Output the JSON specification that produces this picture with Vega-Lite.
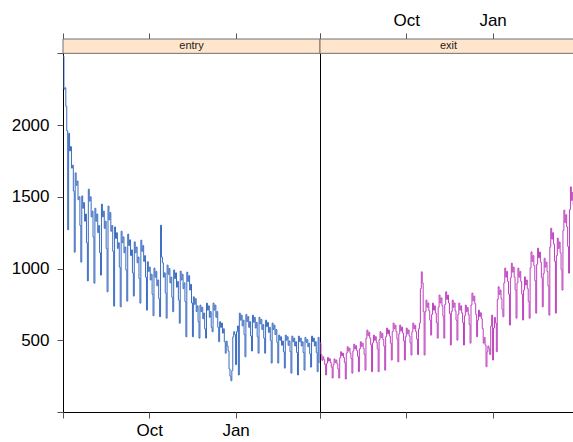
{
"$schema": "https://vega.github.io/schema/vega-lite/v6.json",
"padding": {"left": 10, "top": 10, "right": 0, "bottom": 0},
"spacing": 0,
"bounds": "flush",
"config": {
  "font": "Liberation Sans",
  "view": {"stroke": "#000000", "strokeWidth": 1},
  "axis": {"grid": false, "domain": false, "tickSize": 6, "tickColor": "#555555", "tickWidth": 1, "labelFontSize": 17, "labelColor": "#000000", "labelFont": "Liberation Sans"}
},
"datasets": {"tt": [
{"date":"2010-07-01","entry":2480,"exit":480},{"date":"2010-07-02","entry":2250,"exit":400},{"date":"2010-07-03","entry":2260,"exit":360},{"date":"2010-07-04","entry":2130,"exit":385},{"date":"2010-07-05","entry":1960,"exit":365},{"date":"2010-07-06","entry":1270,"exit":330},{"date":"2010-07-07","entry":1943,"exit":258},{"date":"2010-07-08","entry":1820,"exit":340},{"date":"2010-07-09","entry":1850,"exit":380},{"date":"2010-07-10","entry":1700,"exit":355},{"date":"2010-07-11","entry":1720,"exit":372},{"date":"2010-07-12","entry":1540,"exit":345},{"date":"2010-07-13","entry":1114,"exit":312},{"date":"2010-07-14","entry":1667,"exit":237},{"date":"2010-07-15","entry":1580,"exit":330},{"date":"2010-07-16","entry":1610,"exit":370},{"date":"2010-07-17","entry":1480,"exit":345},{"date":"2010-07-18","entry":1500,"exit":362},{"date":"2010-07-19","entry":1300,"exit":335},{"date":"2010-07-20","entry":1045,"exit":300},{"date":"2010-07-21","entry":1506,"exit":237},{"date":"2010-07-22","entry":1420,"exit":378},{"date":"2010-07-23","entry":1460,"exit":420},{"date":"2010-07-24","entry":1330,"exit":392},{"date":"2010-07-25","entry":1380,"exit":410},{"date":"2010-07-26","entry":1180,"exit":380},{"date":"2010-07-27","entry":914,"exit":344},{"date":"2010-07-28","entry":1553,"exit":230},{"date":"2010-07-29","entry":1470,"exit":410},{"date":"2010-07-30","entry":1500,"exit":455},{"date":"2010-07-31","entry":1360,"exit":425},
{"date":"2010-08-01","entry":1400,"exit":445},{"date":"2010-08-02","entry":1220,"exit":410},{"date":"2010-08-03","entry":898,"exit":373},{"date":"2010-08-04","entry":1420,"exit":271},{"date":"2010-08-05","entry":1330,"exit":425},{"date":"2010-08-06","entry":1380,"exit":473},{"date":"2010-08-07","entry":1250,"exit":440},{"date":"2010-08-08","entry":1300,"exit":462},{"date":"2010-08-09","entry":1110,"exit":428},{"date":"2010-08-10","entry":954,"exit":388},{"date":"2010-08-11","entry":1449,"exit":281},{"date":"2010-08-12","entry":1360,"exit":440},{"date":"2010-08-13","entry":1400,"exit":490},{"date":"2010-08-14","entry":1280,"exit":458},{"date":"2010-08-15","entry":1330,"exit":480},{"date":"2010-08-16","entry":1140,"exit":445},{"date":"2010-08-17","entry":838,"exit":402},{"date":"2010-08-18","entry":1435,"exit":292},{"date":"2010-08-19","entry":1340,"exit":515},{"date":"2010-08-20","entry":1390,"exit":571},{"date":"2010-08-21","entry":1260,"exit":532},{"date":"2010-08-22","entry":1300,"exit":556},{"date":"2010-08-23","entry":1120,"exit":515},{"date":"2010-08-24","entry":738,"exit":468},{"date":"2010-08-25","entry":1290,"exit":281},{"date":"2010-08-26","entry":1210,"exit":482},{"date":"2010-08-27","entry":1250,"exit":536},{"date":"2010-08-28","entry":1140,"exit":500},{"date":"2010-08-29","entry":1180,"exit":525},{"date":"2010-08-30","entry":1010,"exit":485},{"date":"2010-08-31","entry":733,"exit":440},
{"date":"2010-09-01","entry":1260,"exit":281},{"date":"2010-09-02","entry":1180,"exit":505},{"date":"2010-09-03","entry":1220,"exit":560},{"date":"2010-09-04","entry":1110,"exit":520},{"date":"2010-09-05","entry":1150,"exit":548},{"date":"2010-09-06","entry":990,"exit":505},{"date":"2010-09-07","entry":773,"exit":459},{"date":"2010-09-08","entry":1240,"exit":292},{"date":"2010-09-09","entry":1160,"exit":525},{"date":"2010-09-10","entry":1200,"exit":585},{"date":"2010-09-11","entry":1090,"exit":545},{"date":"2010-09-12","entry":1130,"exit":572},{"date":"2010-09-13","entry":970,"exit":530},{"date":"2010-09-14","entry":808,"exit":480},{"date":"2010-09-15","entry":1186,"exit":362},{"date":"2010-09-16","entry":1110,"exit":560},{"date":"2010-09-17","entry":1150,"exit":620},{"date":"2010-09-18","entry":1040,"exit":580},{"date":"2010-09-19","entry":1080,"exit":605},{"date":"2010-09-20","entry":930,"exit":560},{"date":"2010-09-21","entry":759,"exit":508},{"date":"2010-09-22","entry":1198,"exit":350},{"date":"2010-09-23","entry":1120,"exit":545},{"date":"2010-09-24","entry":1160,"exit":606},{"date":"2010-09-25","entry":1050,"exit":565},{"date":"2010-09-26","entry":1090,"exit":592},{"date":"2010-09-27","entry":940,"exit":550},{"date":"2010-09-28","entry":710,"exit":497},{"date":"2010-09-29","entry":1047,"exit":362},{"date":"2010-09-30","entry":980,"exit":525},
{"date":"2010-10-01","entry":1010,"exit":585},{"date":"2010-10-02","entry":920,"exit":545},{"date":"2010-10-03","entry":960,"exit":572},{"date":"2010-10-04","entry":820,"exit":530},{"date":"2010-10-05","entry":671,"exit":480},{"date":"2010-10-06","entry":1003,"exit":397},{"date":"2010-10-07","entry":940,"exit":560},{"date":"2010-10-08","entry":980,"exit":620},{"date":"2010-10-09","entry":880,"exit":580},{"date":"2010-10-10","entry":920,"exit":605},{"date":"2010-10-11","entry":790,"exit":560},{"date":"2010-10-12","entry":664,"exit":508},{"date":"2010-10-13","entry":1302,"exit":400},{"date":"2010-10-14","entry":1080,"exit":580},{"date":"2010-10-15","entry":1040,"exit":620},{"date":"2010-10-16","entry":940,"exit":860},{"date":"2010-10-17","entry":970,"exit":977},{"date":"2010-10-18","entry":830,"exit":900},{"date":"2010-10-19","entry":654,"exit":700},{"date":"2010-10-20","entry":1024,"exit":397},{"date":"2010-10-21","entry":960,"exit":700},{"date":"2010-10-22","entry":1000,"exit":780},{"date":"2010-10-23","entry":900,"exit":730},{"date":"2010-10-24","entry":940,"exit":760},{"date":"2010-10-25","entry":800,"exit":705},{"date":"2010-10-26","entry":699,"exit":640},{"date":"2010-10-27","entry":990,"exit":536},{"date":"2010-10-28","entry":930,"exit":680},{"date":"2010-10-29","entry":970,"exit":759},{"date":"2010-10-30","entry":870,"exit":710},{"date":"2010-10-31","entry":910,"exit":740},
{"date":"2010-11-01","entry":780,"exit":690},{"date":"2010-11-02","entry":619,"exit":622},{"date":"2010-11-03","entry":982,"exit":515},{"date":"2010-11-04","entry":920,"exit":730},{"date":"2010-11-05","entry":960,"exit":815},{"date":"2010-11-06","entry":860,"exit":760},{"date":"2010-11-07","entry":900,"exit":795},{"date":"2010-11-08","entry":770,"exit":740},{"date":"2010-11-09","entry":524,"exit":668},{"date":"2010-11-10","entry":975,"exit":515},{"date":"2010-11-11","entry":910,"exit":750},{"date":"2010-11-12","entry":950,"exit":838},{"date":"2010-11-13","entry":850,"exit":785},{"date":"2010-11-14","entry":890,"exit":815},{"date":"2010-11-15","entry":760,"exit":760},{"date":"2010-11-16","entry":524,"exit":687},{"date":"2010-11-17","entry":803,"exit":467},{"date":"2010-11-18","entry":750,"exit":700},{"date":"2010-11-19","entry":790,"exit":780},{"date":"2010-11-20","entry":700,"exit":730},{"date":"2010-11-21","entry":740,"exit":760},{"date":"2010-11-22","entry":630,"exit":705},{"date":"2010-11-23","entry":515,"exit":640},{"date":"2010-11-24","entry":745,"exit":501},{"date":"2010-11-25","entry":700,"exit":680},{"date":"2010-11-26","entry":730,"exit":759},{"date":"2010-11-27","entry":650,"exit":710},{"date":"2010-11-28","entry":690,"exit":740},{"date":"2010-11-29","entry":580,"exit":690},{"date":"2010-11-30","entry":515,"exit":622},
{"date":"2010-12-01","entry":759,"exit":467},{"date":"2010-12-02","entry":710,"exit":670},{"date":"2010-12-03","entry":740,"exit":745},{"date":"2010-12-04","entry":660,"exit":700},{"date":"2010-12-05","entry":700,"exit":728},{"date":"2010-12-06","entry":590,"exit":680},{"date":"2010-12-07","entry":559,"exit":611},{"date":"2010-12-08","entry":759,"exit":480},{"date":"2010-12-09","entry":710,"exit":745},{"date":"2010-12-10","entry":745,"exit":829},{"date":"2010-12-11","entry":660,"exit":775},{"date":"2010-12-12","entry":700,"exit":808},{"date":"2010-12-13","entry":590,"exit":755},{"date":"2010-12-14","entry":490,"exit":680},{"date":"2010-12-15","entry":629,"exit":524},{"date":"2010-12-16","entry":590,"exit":640},{"date":"2010-12-17","entry":620,"exit":710},{"date":"2010-12-18","entry":550,"exit":665},{"date":"2010-12-19","entry":580,"exit":692},{"date":"2010-12-20","entry":490,"exit":650},{"date":"2010-12-21","entry":410,"exit":582},{"date":"2010-12-22","entry":494,"exit":480},{"date":"2010-12-23","entry":460,"exit":520},{"date":"2010-12-24","entry":425,"exit":467},{"date":"2010-12-25","entry":300,"exit":316},{"date":"2010-12-26","entry":250,"exit":420},{"date":"2010-12-27","entry":218,"exit":460},{"date":"2010-12-28","entry":290,"exit":440},{"date":"2010-12-29","entry":524,"exit":400},{"date":"2010-12-30","entry":560,"exit":600},{"date":"2010-12-31","entry":540,"exit":675},
{"date":"2011-01-01","entry":330,"exit":362},{"date":"2011-01-02","entry":560,"exit":585},{"date":"2011-01-03","entry":600,"exit":660},{"date":"2011-01-04","entry":258,"exit":620},{"date":"2011-01-05","entry":689,"exit":420},{"date":"2011-01-06","entry":640,"exit":785},{"date":"2011-01-07","entry":675,"exit":873},{"date":"2011-01-08","entry":600,"exit":820},{"date":"2011-01-09","entry":640,"exit":850},{"date":"2011-01-10","entry":540,"exit":790},{"date":"2011-01-11","entry":385,"exit":716},{"date":"2011-01-12","entry":680,"exit":664},{"date":"2011-01-13","entry":630,"exit":900},{"date":"2011-01-14","entry":665,"exit":1003},{"date":"2011-01-15","entry":590,"exit":940},{"date":"2011-01-16","entry":630,"exit":980},{"date":"2011-01-17","entry":530,"exit":910},{"date":"2011-01-18","entry":425,"exit":822},{"date":"2011-01-19","entry":675,"exit":606},{"date":"2011-01-20","entry":625,"exit":935},{"date":"2011-01-21","entry":660,"exit":1037},{"date":"2011-01-22","entry":585,"exit":975},{"date":"2011-01-23","entry":625,"exit":1010},{"date":"2011-01-24","entry":525,"exit":940},{"date":"2011-01-25","entry":410,"exit":850},{"date":"2011-01-26","entry":660,"exit":654},{"date":"2011-01-27","entry":615,"exit":900},{"date":"2011-01-28","entry":645,"exit":1003},{"date":"2011-01-29","entry":575,"exit":940},{"date":"2011-01-30","entry":610,"exit":980},{"date":"2011-01-31","entry":515,"exit":910},
{"date":"2011-02-01","entry":410,"exit":822},{"date":"2011-02-02","entry":640,"exit":641},{"date":"2011-02-03","entry":595,"exit":850},{"date":"2011-02-04","entry":625,"exit":942},{"date":"2011-02-05","entry":555,"exit":885},{"date":"2011-02-06","entry":590,"exit":920},{"date":"2011-02-07","entry":500,"exit":860},{"date":"2011-02-08","entry":341,"exit":772},{"date":"2011-02-09","entry":620,"exit":654},{"date":"2011-02-10","entry":575,"exit":1005},{"date":"2011-02-11","entry":605,"exit":1116},{"date":"2011-02-12","entry":540,"exit":1050},{"date":"2011-02-13","entry":575,"exit":1090},{"date":"2011-02-14","entry":485,"exit":1020},{"date":"2011-02-15","entry":341,"exit":915},{"date":"2011-02-16","entry":536,"exit":689},{"date":"2011-02-17","entry":500,"exit":1030},{"date":"2011-02-18","entry":525,"exit":1142},{"date":"2011-02-19","entry":465,"exit":1075},{"date":"2011-02-20","entry":495,"exit":1115},{"date":"2011-02-21","entry":420,"exit":1045},{"date":"2011-02-22","entry":306,"exit":936},{"date":"2011-02-23","entry":536,"exit":733},{"date":"2011-02-24","entry":500,"exit":965},{"date":"2011-02-25","entry":525,"exit":1072},{"date":"2011-02-26","entry":465,"exit":1010},{"date":"2011-02-27","entry":495,"exit":1045},{"date":"2011-02-28","entry":420,"exit":980},
{"date":"2011-03-01","entry":271,"exit":879},{"date":"2011-03-02","entry":529,"exit":675},{"date":"2011-03-03","entry":490,"exit":1150},{"date":"2011-03-04","entry":515,"exit":1281},{"date":"2011-03-05","entry":460,"exit":1205},{"date":"2011-03-06","entry":490,"exit":1250},{"date":"2011-03-07","entry":415,"exit":1170},{"date":"2011-03-08","entry":258,"exit":1050},{"date":"2011-03-09","entry":529,"exit":689},{"date":"2011-03-10","entry":490,"exit":1090},{"date":"2011-03-11","entry":515,"exit":1212},{"date":"2011-03-12","entry":460,"exit":1140},{"date":"2011-03-13","entry":490,"exit":1185},{"date":"2011-03-14","entry":415,"exit":1110},{"date":"2011-03-15","entry":292,"exit":994},{"date":"2011-03-16","entry":520,"exit":850},{"date":"2011-03-17","entry":485,"exit":1265},{"date":"2011-03-18","entry":505,"exit":1407},{"date":"2011-03-19","entry":455,"exit":1320},{"date":"2011-03-20","entry":480,"exit":1375},{"date":"2011-03-21","entry":405,"exit":1290},{"date":"2011-03-22","entry":313,"exit":1154},{"date":"2011-03-23","entry":529,"exit":968},{"date":"2011-03-24","entry":490,"exit":1410},{"date":"2011-03-25","entry":515,"exit":1569},{"date":"2011-03-26","entry":460,"exit":1475},{"date":"2011-03-27","entry":490,"exit":1530},{"date":"2011-03-28","entry":415,"exit":1440},{"date":"2011-03-29","entry":281,"exit":1287},{"date":"2011-03-30","entry":520,"exit":1100},{"date":"2011-03-31","entry":341,"exit":1450}
]},
"hconcat": [
{
  "width": 257, "height": 373,
  "layer": [
    {
      "data": {"values": [{"strip": "entry"}]},
      "mark": {"type": "rect", "fill": "#ffe5cc", "stroke": "#707070", "strokeWidth": 1},
      "encoding": {
        "x": {"datum": {"year": 2010, "month": 7, "date": 1, "utc": true}, "type": "temporal",
              "scale": {"type": "utc", "domain": [{"year": 2010, "month": 7, "date": 1, "utc": true}, {"year": 2011, "month": 4, "date": 1, "utc": true}]},
              "axis": {"orient": "top", "values": [{"year": 2010, "month": 7, "date": 1, "utc": true}, {"year": 2010, "month": 10, "date": 1, "utc": true}, {"year": 2011, "month": 1, "date": 1, "utc": true}, {"year": 2011, "month": 4, "date": 1, "utc": true}], "labels": false, "title": null}},
        "x2": {"datum": {"year": 2011, "month": 4, "date": 1, "utc": true}},
        "y": {"datum": 2500, "type": "quantitative", "scale": {"domain": [0, 2600], "nice": false, "zero": false},
              "axis": {"orient": "left", "values": [0, 500, 1000, 1500, 2000, 2500], "format": "d", "labelExpr": "datum.value == 0 || datum.value == 2500 ? '' : datum.label", "labelPadding": 8, "title": null}},
        "y2": {"datum": 2600}
      }
    },
    {
      "data": {"values": [{"strip": "entry"}]},
      "mark": {"type": "text", "fontSize": 11, "color": "#222222", "baseline": "middle", "font": "Liberation Sans"},
      "encoding": {
        "y": {"datum": 2550, "type": "quantitative",
              "axis": {"orient": "left", "values": [0, 500, 1000, 1500, 2000, 2500], "format": "d", "labelExpr": "datum.value == 0 || datum.value == 2500 ? '' : datum.label", "labelPadding": 8, "title": null}},
        "text": {"field": "strip"}
      }
    },
    {
      "data": {"name": "tt"},
      "transform": [{"fold": ["entry", "exit"], "as": ["panel", "value"]}, {"filter": "datum.panel == 'entry'"}],
      "mark": {"type": "line", "interpolate": "step-after", "color": "#3b6cc0", "strokeWidth": 1},
      "encoding": {
        "x": {"field": "date", "type": "temporal",
              "axis": {"orient": "bottom", "values": [{"year": 2010, "month": 7, "date": 1, "utc": true}, {"year": 2010, "month": 10, "date": 1, "utc": true}, {"year": 2011, "month": 1, "date": 1, "utc": true}, {"year": 2011, "month": 4, "date": 1, "utc": true}],
                       "labelExpr": "utcmonth(datum.value) == 9 ? 'Oct' : (utcmonth(datum.value) == 0 ? 'Jan' : '')", "labelPadding": 4, "labelOverlap": false, "labelFlush": false, "title": null}},
        "y": {"field": "value", "type": "quantitative",
              "axis": {"orient": "left", "values": [0, 500, 1000, 1500, 2000, 2500], "format": "d", "labelExpr": "datum.value == 0 || datum.value == 2500 ? '' : datum.label", "labelPadding": 8, "title": null}}
      }
    }
  ],
  "resolve": {"axis": {"x": "independent"}}
},
{
  "width": 257, "height": 373,
  "layer": [
    {
      "data": {"values": [{"strip": "exit"}]},
      "mark": {"type": "rect", "fill": "#ffe5cc", "stroke": "#707070", "strokeWidth": 1},
      "encoding": {
        "x": {"datum": {"year": 2010, "month": 7, "date": 1, "utc": true}, "type": "temporal",
              "scale": {"type": "utc", "domain": [{"year": 2010, "month": 7, "date": 1, "utc": true}, {"year": 2011, "month": 4, "date": 1, "utc": true}]},
              "axis": {"orient": "bottom", "values": [{"year": 2010, "month": 7, "date": 1, "utc": true}, {"year": 2010, "month": 10, "date": 1, "utc": true}, {"year": 2011, "month": 1, "date": 1, "utc": true}, {"year": 2011, "month": 4, "date": 1, "utc": true}], "labels": false, "title": null}},
        "x2": {"datum": {"year": 2011, "month": 4, "date": 1, "utc": true}},
        "y": {"datum": 2500, "type": "quantitative", "scale": {"domain": [0, 2600], "nice": false, "zero": false}, "axis": null},
        "y2": {"datum": 2600}
      }
    },
    {
      "data": {"values": [{"strip": "exit"}]},
      "mark": {"type": "text", "fontSize": 11, "color": "#222222", "baseline": "middle", "font": "Liberation Sans"},
      "encoding": {
        "y": {"datum": 2550, "type": "quantitative", "axis": null},
        "text": {"field": "strip"}
      }
    },
    {
      "data": {"name": "tt"},
      "transform": [{"fold": ["entry", "exit"], "as": ["panel", "value"]}, {"filter": "datum.panel == 'exit'"}],
      "mark": {"type": "line", "interpolate": "step-after", "color": "#bd42bd", "strokeWidth": 1},
      "encoding": {
        "x": {"field": "date", "type": "temporal",
              "axis": {"orient": "top", "values": [{"year": 2010, "month": 7, "date": 1, "utc": true}, {"year": 2010, "month": 10, "date": 1, "utc": true}, {"year": 2011, "month": 1, "date": 1, "utc": true}, {"year": 2011, "month": 4, "date": 1, "utc": true}],
                       "labelExpr": "utcmonth(datum.value) == 9 ? 'Oct' : (utcmonth(datum.value) == 0 ? 'Jan' : '')", "labelPadding": 4, "labelOverlap": false, "labelFlush": false, "title": null}},
        "y": {"field": "value", "type": "quantitative", "axis": null}
      }
    }
  ],
  "resolve": {"axis": {"x": "independent"}}
}
]
}
